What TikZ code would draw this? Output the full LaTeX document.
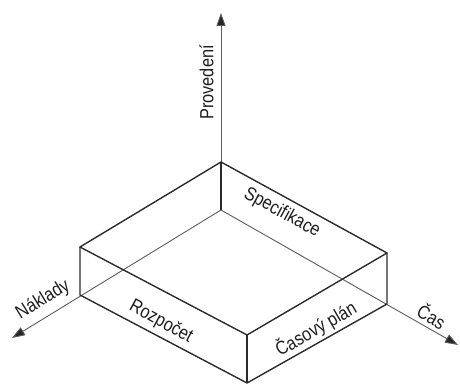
\documentclass[tikz,border=0pt]{standalone}
\usepackage{fontspec}
\setmainfont{Liberation Sans}[FakeStretch=0.86]
\usetikzlibrary{arrows.meta,positioning}
\definecolor{edgeink}{HTML}{2B2B2B}
\definecolor{axisink}{HTML}{5C5C5C}
\definecolor{tipink}{HTML}{262626}
\definecolor{labink}{HTML}{1E1E1E}
\tikzset{
  % ---- box and axes ----------------------------------------------
  boxedge/.style  = {draw=edgeink, line width=1.4pt, line join=round},
  axisline/.style = {draw=axisink, line width=.9pt,
                     -{Triangle[length=13pt, width=9pt, fill=tipink]}},
  % ---- labels ----------------------------------------------------
  lab/.style      = {font=\fontsize{19}{21}\selectfont, text=labink,
                     inner sep=1pt},
}

\begin{document}
\begin{tikzpicture}[x=1pt, y=1pt]
  \useasboundingbox (0,0) rectangle (460,385);
  % corners
  \coordinate (O)  at (221,175);
  \coordinate (T)  at (221,223);
  \coordinate (Lb) at (80,90);
  \coordinate (Lt) at (80,138);
  \coordinate (Rb) at (387,81);
  \coordinate (Rt) at (387,132);
  \coordinate (Fb) at (247,2);
  \coordinate (Ft) at (247,50);
  % axis ends
  \coordinate (up)    at (221,372);
  \coordinate (left)  at (12,47);
  \coordinate (right) at (458,40);
  \draw[axisline] (O) -- (up);
  \draw[axisline] (O) -- (left);
  \draw[axisline] (O) -- (right);
  \draw[boxedge] (T) -- (Lt) -- (Ft) -- (Rt) -- cycle;
  \draw[boxedge] (Lt) -- (Lb) -- (Fb) -- (Rb) -- (Rt);
  \draw[boxedge] (Ft) -- (Fb);
  \draw[boxedge] (O) -- (T);
  \node[lab, rotate=90]    (prov) at (206.5,302.5) {Provedení};
  \node[lab, rotate=31.5]  (nakl) at (43,85)   {Náklady};
  \node[lab, rotate=-29.7] (cas)  at (432,69)  {Čas};
  \node[lab, rotate=-28.5] (spec) at (282,172) {Specifikace};
  \node[lab, rotate=-28.5] (rozp) at (161,63)  {Rozpočet};
  \node[lab, rotate=30]    (plan) at (316,56)  {Časový plán};
\end{tikzpicture}
\end{document}
